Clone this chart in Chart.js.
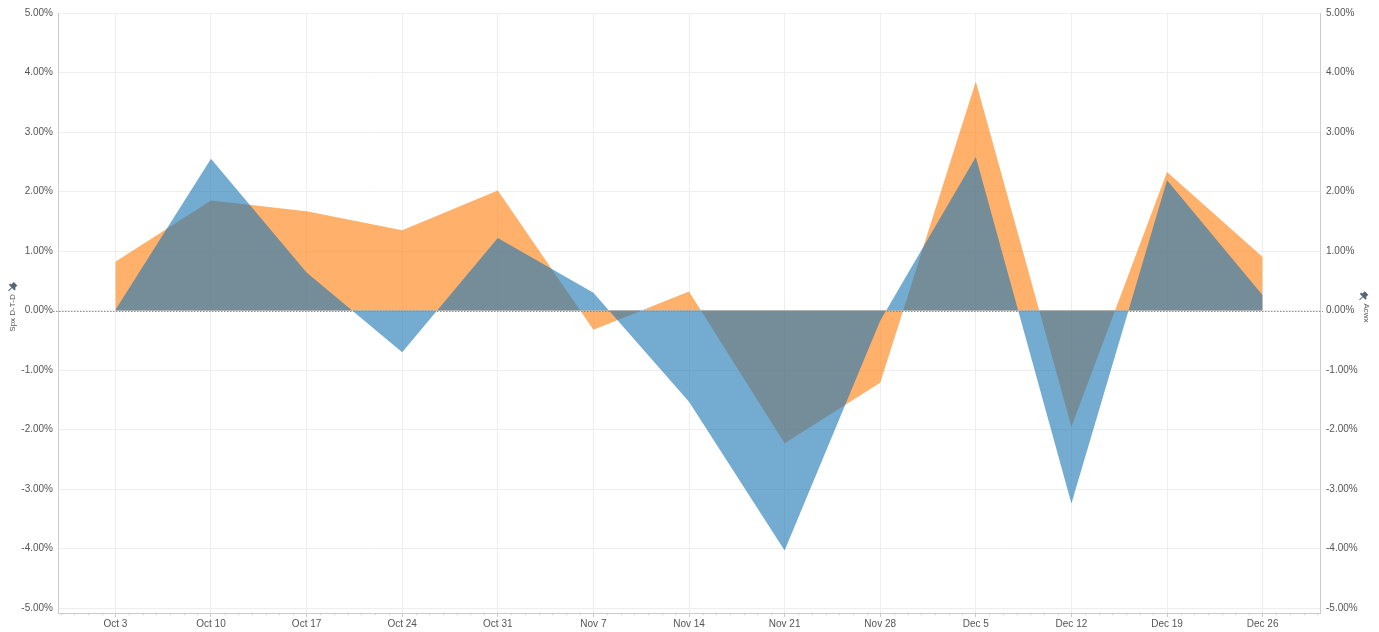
<!DOCTYPE html>
<html>
<head>
<meta charset="utf-8">
<script src="https://cdn.jsdelivr.net/npm/chart.js@4"></script>
<style>
  html, body { margin: 0; padding: 0; background: #fff; }
  #wrap { width: 1379px; height: 632px; position: relative; }
</style>
</head>
<body>
<div id="wrap"><canvas id="chart"></canvas></div>
<script>
const weeks = ['Oct 3', 'Oct 10', 'Oct 17', 'Oct 24', 'Oct 31', 'Nov 7', 'Nov 14',
  'Nov 21', 'Nov 28', 'Dec 5', 'Dec 12', 'Dec 19', 'Dec 26'];
const spxDtd = [0.01, 2.55, 0.64, -0.70, 1.22, 0.30, -1.53, -4.03, -0.17, 2.58, -3.24, 2.19, 0.26];
const acwx = [0.82, 1.85, 1.67, 1.35, 2.02, -0.32, 0.32, -2.23, -1.21, 3.85, -1.95, 2.33, 0.90];
const yTicks = [-5, -4, -3, -2, -1, 0, 1, 2, 3, 4, 5];

const tickColor = '#555';
const gridColor = '#eeeeee';
const axisColor = '#cccccc';
const pinColor = '#56657a';
const fontFamily = "'Liberation Sans', Arial, sans-serif";

Chart.defaults.font.family = fontFamily;
Chart.defaults.font.size = 10;
Chart.defaults.color = tickColor;

const toPoints = arr => arr.map((v, i) => ({ x: i, y: v }));
const keepInts = scale => { scale.ticks = scale.ticks.filter(t => Number.isInteger(t.value)); };
const setYTicks = scale => { scale.ticks = yTicks.map(v => ({ value: v })); };
const pct = v => v.toFixed(2) + '%';

function drawPin(ctx, x, y, angle) {
  ctx.save();
  ctx.translate(x, y);
  ctx.rotate(angle);
  ctx.fillStyle = pinColor;
  ctx.strokeStyle = pinColor;
  ctx.beginPath();
  ctx.rect(-2.5, -5, 5, 4);
  ctx.fill();
  ctx.beginPath();
  ctx.rect(-4, -1.5, 8, 2);
  ctx.fill();
  ctx.lineWidth = 1;
  ctx.beginPath();
  ctx.moveTo(0, 0.5);
  ctx.lineTo(0, 5);
  ctx.stroke();
  ctx.restore();
}

const extras = {
  id: 'extras',
  afterDatasetsDraw(chart) {
    const { ctx, chartArea, scales } = chart;
    const y0 = Math.round(scales.y.getPixelForValue(0)) + 0.5;
    ctx.save();
    ctx.strokeStyle = '#8a8a8a';
    ctx.lineWidth = 1;
    ctx.setLineDash([1.5, 1.5]);
    ctx.beginPath();
    ctx.moveTo(chartArea.left - 5, y0);
    ctx.lineTo(chartArea.right + 3, y0);
    ctx.stroke();
    ctx.restore();
  },
  afterDraw(chart) {
    const { ctx, chartArea, scales } = chart;
    // daily minor ticks on the date axis
    ctx.save();
    ctx.strokeStyle = axisColor;
    ctx.lineWidth = 1;
    const x = scales.x;
    for (let d = -5; d <= weeks.length * 7 + 5; d++) {
      const v = d / 7;
      if (v < x.min || v > x.max || d % 7 === 0) continue;
      const px = Math.round(x.getPixelForValue(v)) + 0.5;
      ctx.beginPath();
      ctx.moveTo(px, chartArea.bottom);
      ctx.lineTo(px, chartArea.bottom + 2);
      ctx.stroke();
    }
    ctx.font = '8px ' + fontFamily;
    const midY = (chartArea.top + chartArea.bottom) / 2;
    const wl = ctx.measureText(chart.options.scales.y.title.text).width;
    const wr = ctx.measureText(chart.options.scales.y1.title.text).width;
    ctx.restore();
    drawPin(ctx, 12, midY - wl / 2 - 7, Math.PI / 4);
    drawPin(ctx, 1363, midY - wr / 2 - 7, Math.PI / 4);
  }
};

new Chart(document.getElementById('chart'), {
  type: 'line',
  data: {
    datasets: [
      {
        label: 'Spx D-T-D',
        data: toPoints(spxDtd),
        yAxisID: 'y',
        borderColor: 'rgba(31, 119, 180, 0.62)',
        backgroundColor: 'rgba(31, 119, 180, 0.62)',
        borderWidth: 0,
        pointRadius: 0,
        tension: 0,
        fill: 'origin',
      },
      {
        label: 'Acwx',
        data: toPoints(acwx),
        yAxisID: 'y1',
        borderColor: 'rgba(255, 127, 14, 0.62)',
        backgroundColor: 'rgba(255, 127, 14, 0.62)',
        borderWidth: 0,
        pointRadius: 0,
        tension: 0,
        fill: 'origin',
      },
    ],
  },
  options: {
    responsive: true,
    maintainAspectRatio: false,
    animation: false,
    layout: { padding: { top: 13, left: 0, right: 0, bottom: 1 } },
    plugins: { legend: { display: false }, tooltip: { enabled: false } },
    scales: {
      x: {
        type: 'linear',
        min: -0.6,
        max: weeks.length - 1 + 0.6,
        afterBuildTicks: keepInts,
        ticks: {
          stepSize: 1,
          padding: 1,
          maxRotation: 0,
          autoSkip: false,
          color: tickColor,
          callback: v => weeks[v] || '',
        },
        grid: { color: gridColor, tickColor: axisColor, tickLength: 4 },
        border: { color: axisColor },
      },
      y: {
        position: 'left',
        min: -5.08,
        max: 5,
        afterBuildTicks: setYTicks,
        afterFit: s => { s.width = 58; },
        ticks: { padding: 5, color: tickColor, callback: pct },
        grid: { color: gridColor, drawTicks: false },
        border: { color: axisColor },
        title: { display: true, text: 'Spx D-T-D', color: tickColor, font: { size: 8 }, padding: { top: 8, bottom: 2 } },
      },
      y1: {
        position: 'right',
        min: -5.08,
        max: 5,
        afterBuildTicks: setYTicks,
        afterFit: s => { s.width = 59; },
        ticks: { padding: 6, color: tickColor, callback: pct },
        grid: { drawOnChartArea: false, drawTicks: false },
        border: { color: axisColor },
        title: { display: true, text: 'Acwx', color: tickColor, font: { size: 8 }, padding: { top: 8, bottom: 2 } },
      },
    },
  },
  plugins: [extras],
});
</script>
</body>
</html>
